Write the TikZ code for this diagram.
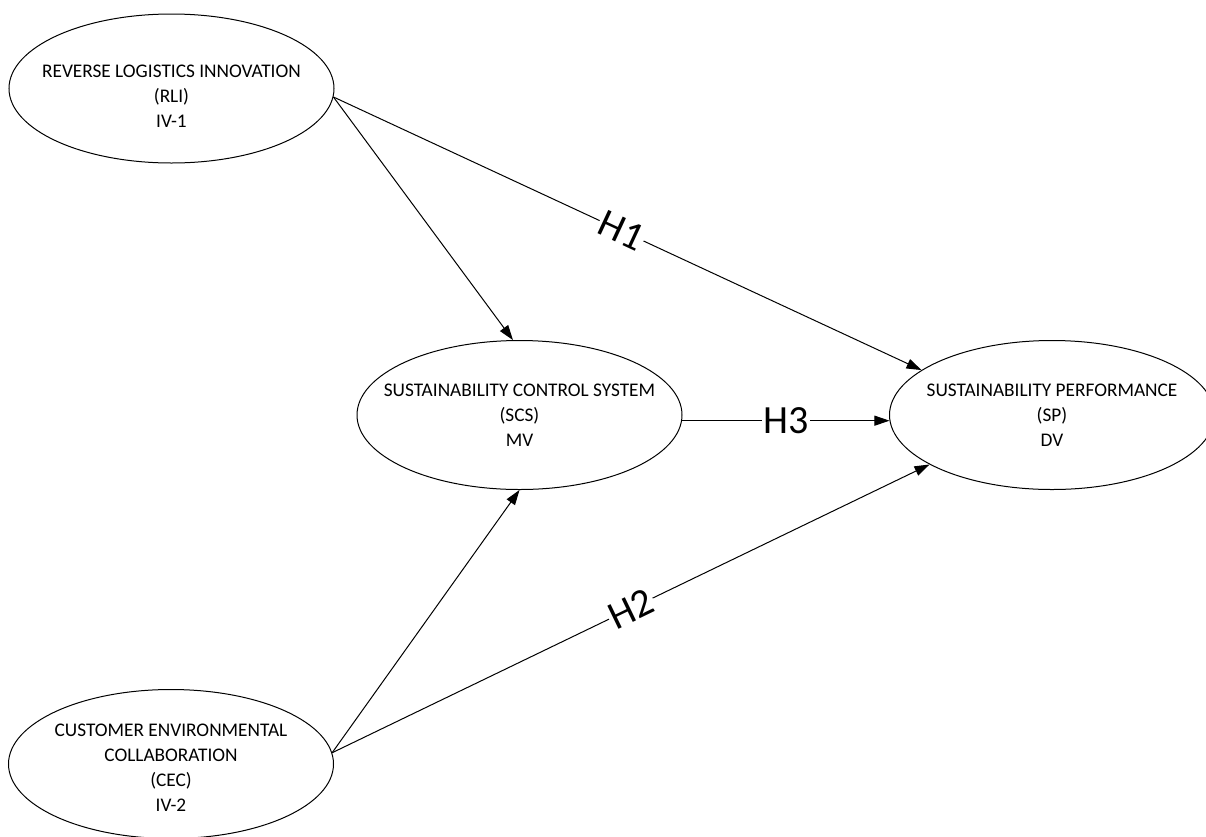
\documentclass[tikz,border=0pt]{standalone}
\usepackage{fontspec}
\setmainfont{Carlito}
\usetikzlibrary{arrows.meta,shapes.geometric}
\begin{document}
\begin{tikzpicture}[x=1pt,y=-1pt,
  var/.style={ellipse,draw,line width=1pt,minimum width=325pt,minimum height=149pt,inner sep=0pt},
  vlab/.style={align=center,inner sep=0pt,font=\fontsize{19.3}{25}\selectfont},
  link/.style={line width=1pt,-{Triangle[length=15pt,width=10pt]}},
  hyp/.style={fill=white,inner sep=1.5pt,font=\fontsize{40}{40}\selectfont}]
\useasboundingbox (0,0) rectangle (1206,836);
\node[var,label={[vlab,yshift=-8pt]center:{REVERSE LOGISTICS INNOVATION\\(RLI)\\IV-1}}] (rli) at (171.5,88.5) {};
\node[var,label={[vlab]center:{SUSTAINABILITY CONTROL SYSTEM\\(SCS)\\MV}}] (scs) at (519.5,415) {};
\node[var,label={[vlab]center:{SUSTAINABILITY PERFORMANCE\\(SP)\\DV}}] (sp) at (1052,415) {};
\node[var,label={[vlab,yshift=-4pt]center:{CUSTOMER ENVIRONMENTAL\\COLLABORATION\\(CEC)\\IV-2}}] (cec) at (171,764) {};
\draw[link] (rli.-3.5) -- (scs.95);
\draw[link] (rli.-3.5) -- node[hyp,sloped,pos=0.49] (h1) {H1} (sp.161);
\draw[link] (scs.-2) -- node[hyp,pos=0.5] (h3) {H3} (sp.182);
\draw[link] (cec.4) -- (scs.south);
\draw[link] (cec.4) -- node[hyp,sloped,pos=0.5] (h2) {H2} (sp.202);
\end{tikzpicture}
\end{document}
